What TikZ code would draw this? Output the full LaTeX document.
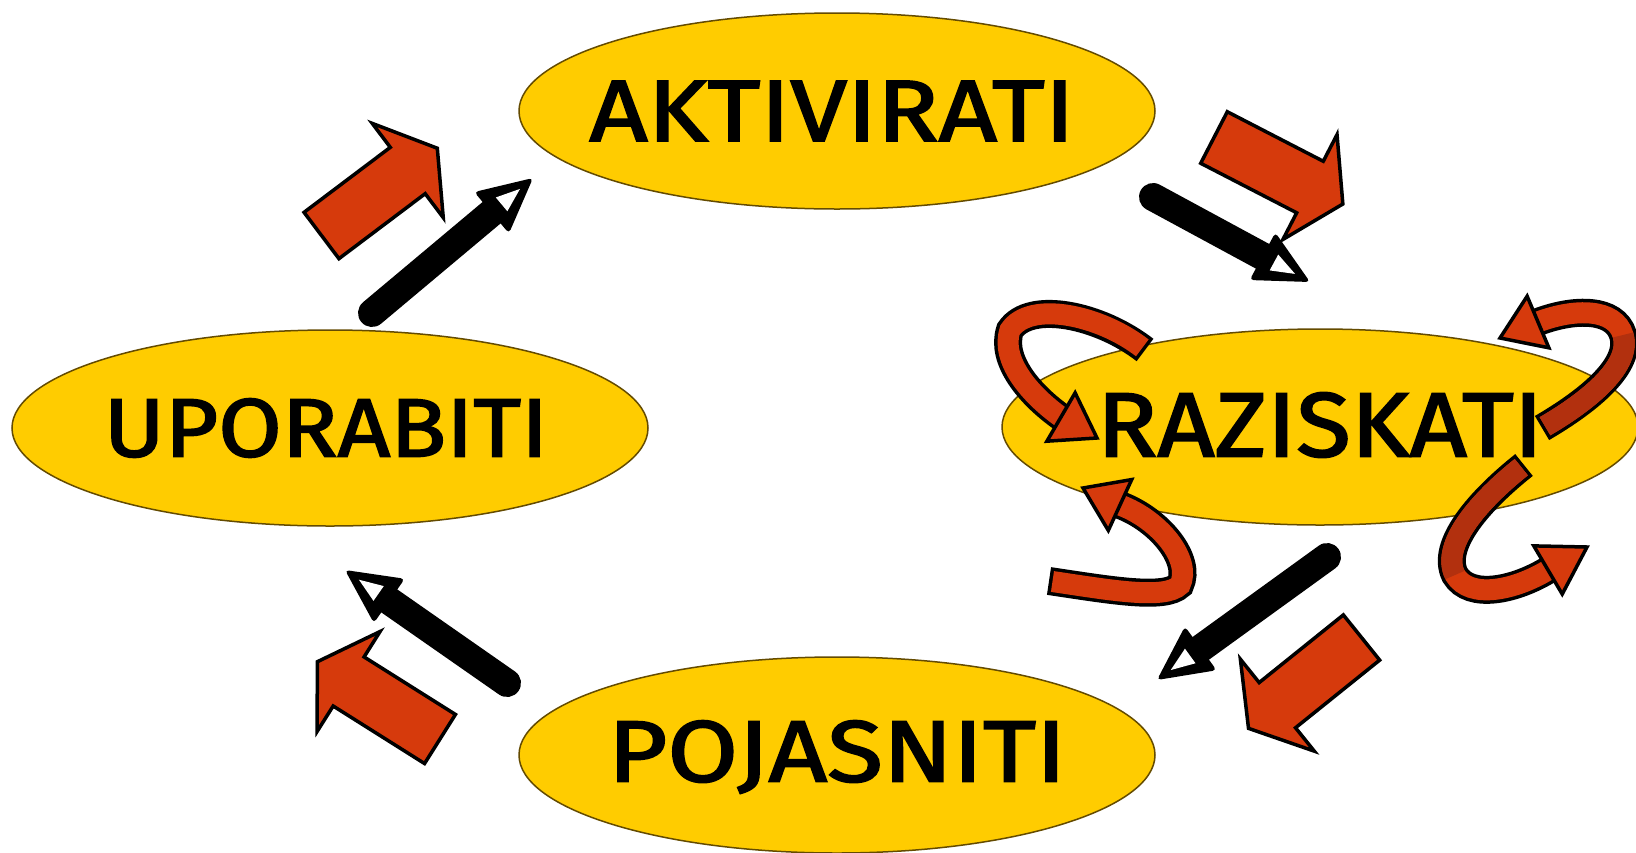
\documentclass[tikz,border=0pt]{standalone}
\usepackage{fontspec}
\usepackage{graphicx}
\usetikzlibrary{shapes.geometric,calc}
\newfontfamily\lblfont{Fira Sans}[FakeBold=2]
\definecolor{ellfill}{RGB}{255,204,0}
\definecolor{ellline}{RGB}{100,75,0}
\definecolor{arrred}{RGB}{214,58,12}
\definecolor{arrdark}{RGB}{178,48,14}
\tikzset{
  ell/.style={ellipse,draw=ellline,fill=ellfill,line width=1.5pt,minimum width=636pt,minimum height=196pt,inner sep=0pt},
  lbl/.style={inner sep=0pt,font=\lblfont},
  redarr/.style={draw=black,fill=arrred,line width=3.5pt,line join=miter},
  blkshaft/.style={draw=black,line width=28pt,line cap=round},
  blkheadout/.style={fill=black,rounded corners=4pt},
  blkheadin/.style={fill=white},
  ribout/.style={draw=black,line width=28pt},
  ribin/.style={draw=arrred,line width=21pt,shorten <=3.5pt},
  ribback/.style={draw=arrdark,line width=21pt,shorten <=3.5pt},
  ribhead/.style={draw=black,fill=arrred,line width=3.5pt,line join=miter},
  redblock/.pic={\path[redarr] (0,-29) -- (108,-29) -- (108,-59) -- (145,0) -- (108,59) -- (108,29) -- (0,29) -- cycle;}
}
\newcommand\blkarrow[2]{%
  \path ($(#2)!54pt!(#1)$) coordinate (hb) ($(#2)!41pt!(#1)$) coordinate (hi) ($(#2)!17pt!(#1)$) coordinate (ht);
  \draw[blkshaft] (#1) -- (hb);
  \fill[blkheadout] (#2) -- ($(hb)!27pt!90:(#2)$) -- ($(hb)!27pt!-90:(#2)$) -- cycle;
  \fill[blkheadin] (ht) -- ($(hi)!9pt!90:(#2)$) -- ($(hi)!9pt!-90:(#2)$) -- cycle;}
\newcommand\ribarrow[4]{%
  \draw[ribout] #1; \draw[ribin] #1; \draw[ribback] #4;
  \draw[ribhead] (#3) -- ($(#2)!28pt!90:(#3)$) -- ($(#2)!28pt!-90:(#3)$) -- cycle;}
\begin{document}
\begin{tikzpicture}[x=1pt,y=-1pt]
\fill[white] (0,0) rectangle (1636,852);
\useasboundingbox (0,0) rectangle (1636,852);

% ellipses
\node[ell] (akt) at (837,111) {};
\node[ell] (upo) at (330,428) {};
\node[ell] (raz) at (1320,427) {};
\node[ell] (poj) at (837,755) {};

\node[lbl] (aktT) at (832,111) {\resizebox{485pt}{60pt}{AKTIVIRATI}};
\node[lbl] (upoT) at (326,428) {\resizebox{444pt}{58pt}{UPORABITI}};
\node[lbl] (razT) at (1320,425) {\resizebox{446pt}{64pt}{RAZISKATI}};
\node[lbl] (pojT) at (837,757) {\resizebox{458pt}{61pt}{POJASNITI}};

% red block arrows
\pic (r1) [rotate=37] at (321.5,235.5) {redblock};
\pic (r2) [rotate=-27.3] at (1214,137.5) {redblock};
\pic (r3) [rotate=147.8] at (440,739) {redblock};
\pic (r4) [rotate=-141.2] at (1361.5,637.5) {redblock};

% black arrows
\coordinate (b1t) at (372,313);  \coordinate (b1h) at (533,178);
\coordinate (b2t) at (1153,197); \coordinate (b2h) at (1310,282);
\coordinate (b3t) at (1327,557); \coordinate (b3h) at (1157,680);
\coordinate (b4t) at (507,683);  \coordinate (b4h) at (345,570);
\blkarrow{b1t}{b1h}
\blkarrow{b2t}{b2h}
\blkarrow{b3t}{b3h}
\blkarrow{b4t}{b4h}

% curved ribbon arrows around RAZISKATI
\coordinate (c1m) at (1061,417); \coordinate (c1t) at (1097,438);
\ribarrow{(1145,350) .. controls (1100,315) and (1030,300) .. (1010,330) .. controls (1000,360) and (1030,395) .. (c1m)}{c1m}{c1t}{(1010,330)}
\coordinate (c2m) at (1120,505); \coordinate (c2t) at (1083,488);
\ribarrow{(1049,581) .. controls (1110,590) and (1165,600) .. (1180,585) .. controls (1192,560) and (1160,520) .. (c2m)}{c2m}{c2t}{(1180,585)}
\coordinate (c3m) at (1538,322); \coordinate (c3t) at (1500,338);
\ribarrow{(1542,428) .. controls (1590,400) and (1632,365) .. (1623,335) .. controls (1615,308) and (1575,308) .. (c3m)}{c3m}{c3t}{(1542,428) .. controls (1590,400) and (1632,365) .. (1623,335)}
\coordinate (c4m) at (1548,570); \coordinate (c4t) at (1587,547);
\ribarrow{(1524,465) .. controls (1480,500) and (1440,545) .. (1455,575) .. controls (1470,600) and (1515,590) .. (c4m)}{c4m}{c4t}{(1524,465) .. controls (1480,500) and (1440,545) .. (1455,575)}
\end{tikzpicture}
\end{document}
